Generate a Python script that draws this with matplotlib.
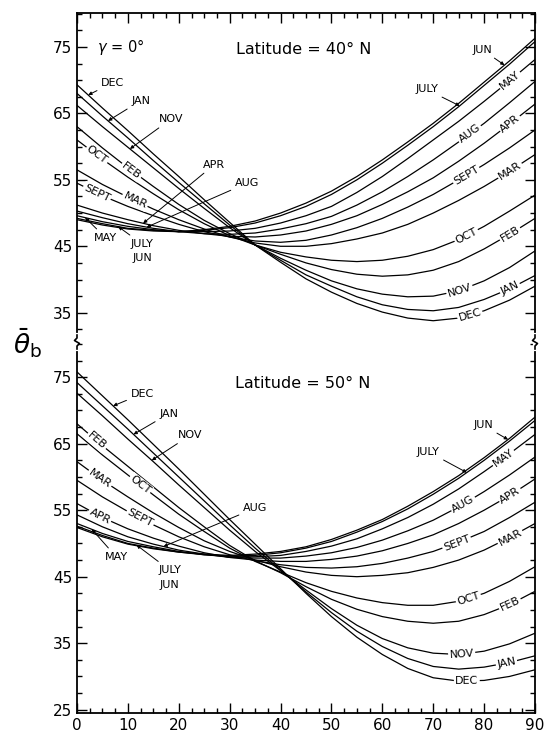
import numpy as np
import matplotlib
matplotlib.use('Agg')
import matplotlib.pyplot as plt
from matplotlib.ticker import MultipleLocator
from matplotlib.lines import Line2D

# collector tilt (deg) and monthly mean beam incidence angle
tilt = [0, 5, 10, 15, 20, 25, 30, 35, 40, 45, 50, 55, 60, 65, 70, 75, 80, 85, 90]

theta_40 = {
    'DEC':  [69.3, 65.8, 62.4, 58.9, 55.5, 52.0, 48.6, 45.2, 42.6, 40.1, 38.1, 36.4, 35.1, 34.2, 33.8, 34.2, 35.3, 36.9, 39.0],
    'JAN':  [68.0, 64.6, 61.3, 57.9, 54.6, 51.4, 48.2, 45.2, 42.9, 40.7, 39.0, 37.4, 36.2, 35.5, 35.3, 35.8, 37.0, 38.6, 40.6],
    'NOV':  [66.2, 63.0, 59.9, 56.8, 53.7, 50.7, 47.8, 45.2, 43.2, 41.4, 39.8, 38.6, 37.8, 37.4, 37.5, 38.3, 39.8, 41.8, 44.3],
    'FEB':  [63.0, 59.8, 56.8, 54.0, 51.3, 48.9, 46.9, 45.2, 43.8, 42.5, 41.5, 40.8, 40.5, 40.7, 41.4, 42.7, 44.6, 46.8, 49.2],
    'OCT':  [61.0, 58.1, 55.4, 52.9, 50.5, 48.4, 46.6, 45.2, 44.1, 43.4, 42.9, 42.7, 42.9, 43.5, 44.5, 46.0, 48.0, 50.3, 52.7],
    'MAR':  [56.5, 54.3, 52.4, 50.6, 49.0, 47.6, 46.4, 45.5, 45.0, 45.0, 45.4, 46.1, 47.0, 48.3, 50.0, 51.9, 54.0, 56.3, 58.8],
    'SEPT': [54.5, 52.6, 51.0, 49.6, 48.3, 47.2, 46.4, 45.8, 45.6, 45.9, 46.7, 47.8, 49.2, 50.9, 52.8, 55.0, 57.3, 59.8, 62.5],
    'APR':  [51.2, 50.0, 49.0, 48.1, 47.4, 46.9, 46.5, 46.4, 46.7, 47.3, 48.3, 49.6, 51.3, 53.2, 55.3, 57.8, 60.5, 63.4, 66.4],
    'AUG':  [50.3, 49.3, 48.4, 47.7, 47.2, 46.9, 46.8, 47.0, 47.6, 48.4, 49.5, 51.2, 53.2, 55.5, 58.0, 60.7, 63.5, 66.6, 69.8],
    'MAY':  [49.6, 48.7, 48.0, 47.5, 47.2, 47.2, 47.3, 47.7, 48.5, 49.6, 51.0, 53.1, 55.5, 58.2, 61.0, 63.8, 66.8, 69.9, 73.1],
    'JULY': [49.2, 48.4, 47.7, 47.4, 47.2, 47.4, 47.8, 48.5, 49.6, 51.0, 52.8, 55.0, 57.5, 60.2, 63.0, 66.0, 69.2, 72.4, 75.8],
    'JUN':  [49.0, 48.2, 47.6, 47.3, 47.2, 47.5, 48.0, 48.8, 50.0, 51.5, 53.3, 55.5, 58.0, 60.7, 63.5, 66.5, 69.7, 72.9, 76.3],
}

theta_50 = {
    'DEC':  [75.8, 72.2, 68.6, 64.9, 61.2, 57.4, 53.6, 49.9, 46.2, 42.5, 39.0, 35.9, 33.3, 31.2, 29.8, 29.3, 29.4, 30.0, 31.0],
    'JAN':  [74.2, 70.7, 67.2, 63.6, 60.0, 56.4, 52.8, 49.3, 46.0, 42.7, 39.6, 36.8, 34.5, 32.7, 31.5, 31.1, 31.4, 32.1, 33.1],
    'NOV':  [72.6, 69.2, 65.7, 62.3, 58.8, 55.4, 52.0, 48.8, 45.9, 43.0, 40.2, 37.7, 35.7, 34.3, 33.5, 33.3, 33.8, 34.9, 36.5],
    'FEB':  [68.0, 64.7, 61.6, 58.5, 55.4, 52.5, 49.7, 47.4, 45.6, 43.5, 41.6, 40.1, 39.0, 38.3, 38.0, 38.3, 39.3, 40.8, 42.8],
    'OCT':  [66.5, 63.3, 60.3, 57.3, 54.4, 51.8, 49.3, 47.3, 45.7, 44.1, 42.8, 41.8, 41.1, 40.7, 40.7, 41.3, 42.5, 44.3, 46.5],
    'MAR':  [62.3, 59.5, 57.0, 54.6, 52.4, 50.4, 48.8, 47.5, 46.5, 45.7, 45.2, 45.0, 45.2, 45.6, 46.4, 47.5, 49.0, 50.9, 53.0],
    'SEPT': [59.5, 57.0, 54.8, 52.8, 51.0, 49.5, 48.3, 47.4, 46.8, 46.4, 46.3, 46.5, 47.0, 47.8, 48.8, 50.2, 51.8, 53.9, 56.2],
    'APR':  [56.0, 53.9, 52.2, 50.8, 49.6, 48.6, 47.9, 47.5, 47.3, 47.3, 47.6, 48.1, 48.9, 50.0, 51.3, 53.0, 55.0, 57.2, 59.7],
    'AUG':  [54.3, 52.5, 51.0, 49.9, 49.0, 48.4, 47.9, 47.8, 47.8, 48.1, 48.6, 49.4, 50.5, 51.9, 53.5, 55.5, 57.8, 60.3, 63.0],
    'MAY':  [53.0, 51.5, 50.3, 49.5, 48.8, 48.3, 48.0, 48.0, 48.2, 48.8, 49.6, 50.7, 52.2, 53.9, 55.9, 58.2, 60.8, 63.5, 66.4],
    'JULY': [52.6, 51.2, 50.0, 49.3, 48.7, 48.3, 48.1, 48.2, 48.6, 49.3, 50.3, 51.7, 53.3, 55.2, 57.4, 59.8, 62.5, 65.4, 68.5],
    'JUN':  [52.4, 51.0, 49.9, 49.2, 48.7, 48.4, 48.2, 48.4, 48.8, 49.5, 50.6, 52.0, 53.6, 55.6, 57.8, 60.2, 62.9, 65.8, 69.0],
}

W, H = 554, 747
FS = 8


def line_y(data, month, x):
    return np.interp(x, tilt, data[month])


def inline_label(ax, data, month, x):
    y = line_y(data, month, x)
    p1 = ax.transData.transform((x - 2, line_y(data, month, x - 2)))
    p2 = ax.transData.transform((x + 2, line_y(data, month, x + 2)))
    ang = np.degrees(np.arctan2(p2[1] - p1[1], p2[0] - p1[0]))
    ax.text(x, y, month, rotation=ang, rotation_mode='anchor', ha='center',
            va='center', fontsize=FS, zorder=3,
            bbox=dict(boxstyle='square,pad=0.12', fc='white', ec='none'))


def arrow_label(ax, data, month, x_tip, tx, ty, text=None):
    ax.annotate(text or month, xy=(x_tip, line_y(data, month, x_tip)),
                xytext=(tx, ty), fontsize=FS, ha='center', va='center',
                zorder=4,
                arrowprops=dict(arrowstyle='-|>', color='black', lw=0.7,
                                mutation_scale=5, shrinkA=1, shrinkB=0))


fig = plt.figure(figsize=(W / 100, H / 100), dpi=100)
L, R = 77 / W, 535 / W
ax_top = fig.add_axes([L, 1 - 342 / H, R - L, (342 - 13) / H])
ax_bot = fig.add_axes([L, 1 - 713 / H, R - L, (713 - 342) / H])

ax_top.set_ylim(30.6, 80.1)
ax_bot.set_ylim(24.5, 80.3)
ax_top.set_yticks([35, 45, 55, 65, 75])
ax_bot.set_yticks([25, 35, 45, 55, 65, 75])

for ax, data in [(ax_top, theta_40), (ax_bot, theta_50)]:
    ax.set_xlim(0, 90)
    for month, vals in data.items():
        ax.plot(tilt, vals, color='black', lw=0.9, zorder=2)
    ax.xaxis.set_major_locator(MultipleLocator(10))
    ax.xaxis.set_minor_locator(MultipleLocator(2.5))
    ax.yaxis.set_minor_locator(MultipleLocator(2.5))
    ax.tick_params(which='both', direction='in', left=True, right=True,
                   labelsize=11, width=1.0)
    ax.tick_params(which='major', length=7)
    ax.tick_params(which='minor', length=3.5)
    for s in ax.spines.values():
        s.set_linewidth(1.3)

ax_top.spines['bottom'].set_visible(False)
ax_top.tick_params(which='both', top=True, bottom=False, labelbottom=False)
ax_bot.spines['top'].set_visible(False)
ax_bot.tick_params(which='both', top=False, bottom=True)

# --- Latitude 40 N ---
a, d = ax_top, theta_40
a.text(3.9, 75.0, r'$\gamma$ = 0°', fontsize=10.5, ha='left', va='center')
a.text(44.5, 74.6, 'Latitude = 40° N', fontsize=11.5, ha='center', va='center')
arrow_label(a, d, 'DEC', 2.2, 7.0, 69.6)
arrow_label(a, d, 'JAN', 6.1, 12.5, 66.9)
arrow_label(a, d, 'NOV', 10.4, 18.4, 64.1)
arrow_label(a, d, 'APR', 13.0, 27.0, 57.3)
arrow_label(a, d, 'AUG', 13.7, 33.4, 54.5)
arrow_label(a, d, 'MAY', 1.6, 5.6, 46.3)
arrow_label(a, d, 'JULY', 8.1, 12.7, 45.4)
a.text(12.9, 43.3, 'JUN', fontsize=FS, ha='center', va='center')
inline_label(a, d, 'OCT', 3.9)
inline_label(a, d, 'FEB', 10.7)
inline_label(a, d, 'SEPT', 3.9)
inline_label(a, d, 'MAR', 11.4)
arrow_label(a, d, 'JUN', 84.0, 79.6, 74.6)
arrow_label(a, d, 'JULY', 75.2, 68.7, 68.6)
for m, x in [('MAY', 85.1), ('AUG', 77.2), ('APR', 85.1), ('SEPT', 76.5),
             ('MAR', 85.1), ('OCT', 76.5), ('FEB', 85.1), ('NOV', 75.2),
             ('JAN', 85.1), ('DEC', 77.2)]:
    inline_label(a, d, m, x)

# --- Latitude 50 N ---
a, d = ax_bot, theta_50
a.text(44.3, 74.0, 'Latitude = 50° N', fontsize=11.5, ha='center', va='center')
arrow_label(a, d, 'DEC', 7.1, 12.8, 72.5)
arrow_label(a, d, 'JAN', 11.1, 18.0, 69.5)
arrow_label(a, d, 'NOV', 14.7, 22.3, 66.3)
arrow_label(a, d, 'AUG', 17.0, 35.0, 55.3)
arrow_label(a, d, 'MAY', 2.9, 7.7, 48.0)
arrow_label(a, d, 'JULY', 11.7, 18.2, 46.0)
a.text(18.2, 43.8, 'JUN', fontsize=FS, ha='center', va='center')
for m, x in [('FEB', 3.9), ('OCT', 12.4), ('MAR', 4.5), ('SEPT', 12.4),
             ('APR', 4.5)]:
    inline_label(a, d, m, x)
arrow_label(a, d, 'JUN', 84.7, 79.8, 67.8)
arrow_label(a, d, 'JULY', 76.6, 69.0, 63.8)
for m, x in [('MAY', 83.8), ('AUG', 75.9), ('APR', 85.1), ('SEPT', 74.6),
             ('MAR', 85.1), ('OCT', 76.9), ('FEB', 85.1), ('NOV', 75.6),
             ('JAN', 84.4), ('DEC', 76.6)]:
    inline_label(a, d, m, x)

# axis break marks on both spines
yb = 342
for xp in (77, 535):
    fig.add_artist(Line2D([xp / W, xp / W], [1 - (yb - 7) / H, 1 - (yb + 7) / H],
                          color='white', lw=3, transform=fig.transFigure))
    zig = [(0, -7), (0, -4), (-2.5, -1.5), (2.5, 1.5), (0, 4), (0, 7)]
    fig.add_artist(Line2D([(xp + dx) / W for dx, dy in zig],
                          [1 - (yb + dy) / H for dx, dy in zig],
                          color='black', lw=1.2, transform=fig.transFigure))

fig.text(28 / W, 1 - 343 / H, r'$\bar{\theta}_{\rm b}$', fontsize=19,
         ha='center', va='center')

fig.savefig('out.png', dpi=100)
